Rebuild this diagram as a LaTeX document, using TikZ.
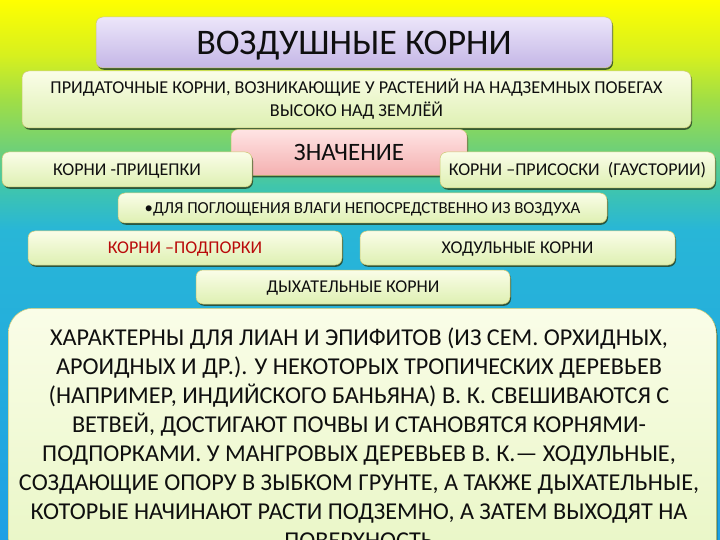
\documentclass[tikz,border=0pt]{standalone}
\usepackage{fontspec}
\setmainfont{Carlito}
\usetikzlibrary{shadows}
\definecolor{bgA}{RGB}{30,160,228}
\definecolor{bgB}{RGB}{40,182,215}
\definecolor{bgC}{RGB}{65,198,170}
\definecolor{bgD}{RGB}{110,208,120}
\definecolor{bgE}{RGB}{160,222,70}
\definecolor{bgF}{RGB}{255,255,0}
\definecolor{bgG}{RGB}{215,240,30}
\definecolor{creamT}{RGB}{250,253,232}
\definecolor{creamB}{RGB}{222,240,178}
\definecolor{lavT}{RGB}{236,230,250}
\definecolor{lavB}{RGB}{196,182,230}
\definecolor{pinkT}{RGB}{255,228,228}
\definecolor{pinkB}{RGB}{244,176,176}
\definecolor{bigT}{RGB}{250,253,232}
\definecolor{bigB}{RGB}{232,246,196}
\definecolor{txt}{RGB}{15,15,15}
\definecolor{redtxt}{RGB}{185,10,10}
\definecolor{shadowc}{RGB}{40,70,40}
\pgfdeclareverticalshading{bgshade}{100bp}{color(0bp)=(bgA); color(25bp)=(bgA); color(53.7bp)=(bgB); color(57.87bp)=(bgC); color(61.1bp)=(bgD); color(65.74bp)=(bgE); color(69.9bp)=(bgG); color(75bp)=(bgF); color(100bp)=(bgF)}
\tikzset{
  box/.style={rounded corners=7pt, draw=white!55!olive, line width=0.5pt,
    drop shadow={shadow xshift=1pt, shadow yshift=-1.8pt, fill=shadowc, opacity=0.85},
    top color=creamT, bottom color=creamB, inner sep=0pt, text=txt,
    font=\fontsize{18}{23}\selectfont, text height=11.6pt, text depth=0pt},
  titlebox/.style={box, top color=lavT, bottom color=lavB, font=\fontsize{36}{40}\selectfont, text height=23.2pt},
  pinkbox/.style={box, top color=pinkT, bottom color=pinkB, font=\fontsize{25}{28}\selectfont, text height=16.1pt},
  bodyline/.style={anchor=base, inner sep=0pt, text=txt, font=\fontsize{24.2}{29}\selectfont}
}
\begin{document}
\begin{tikzpicture}[x=1pt,y=-1pt]
\useasboundingbox (0,0) rectangle (720,540);
\clip (0,0) rectangle (720,540);
\shade[shading=bgshade] (0,0) rectangle (720,540);
\node[titlebox, minimum width=516pt, minimum height=51pt] (title) at (354,42.5) {ВОЗДУШНЫЕ КОРНИ};
\node[box, align=center, font=\fontsize{18.15}{23}\selectfont, text height=34.7pt, minimum width=669pt, minimum height=57pt] (def) at (356.5,99.5) {ПРИДАТОЧНЫЕ КОРНИ, ВОЗНИКАЮЩИЕ У РАСТЕНИЙ НА НАДЗЕМНЫХ ПОБЕГАХ\\ВЫСОКО НАД ЗЕМЛЁЙ};
\node[pinkbox, minimum width=236pt, minimum height=46pt] (znach) at (349,152.5) {ЗНАЧЕНИЕ};
\node[box, minimum width=250pt, minimum height=35pt] (pric) at (127,169.5) {КОРНИ -ПРИЦЕПКИ};
\node[box, minimum width=275pt, minimum height=36pt] (pris) at (577.5,170) {КОРНИ –ПРИСОСКИ\ \ (ГАУСТОРИИ)};
\node[box, font=\fontsize{16.8}{20}\selectfont, text height=10.8pt, minimum width=489pt, minimum height=30pt] (vlag) at (362.5,208) {•ДЛЯ ПОГЛОЩЕНИЯ ВЛАГИ НЕПОСРЕДСТВЕННО ИЗ ВОЗДУХА};
\node[box, minimum width=314pt, minimum height=34pt, text=redtxt] (podp) at (185,248) {КОРНИ –ПОДПОРКИ};
\node[box, minimum width=315pt, minimum height=34pt] (hod) at (517.5,248) {ХОДУЛЬНЫЕ КОРНИ};
\node[box, minimum width=314pt, minimum height=34pt] (dyh) at (353,287) {ДЫХАТЕЛЬНЫЕ КОРНИ};
\node[box, rounded corners=25pt, top color=bigT, bottom color=bigB, minimum width=708pt, minimum height=262pt, anchor=north west] (big) at (8,308) {};
\node[bodyline] (l1) at (359,345.5) {ХАРАКТЕРНЫ ДЛЯ ЛИАН И ЭПИФИТОВ (ИЗ СЕМ. ОРХИДНЫХ,};
\node[bodyline] (l2) at (359,374.5) {АРОИДНЫХ И ДР.). У НЕКОТОРЫХ ТРОПИЧЕСКИХ ДЕРЕВЬЕВ};
\node[bodyline] (l3) at (359,403.5) {(НАПРИМЕР, ИНДИЙСКОГО БАНЬЯНА) В. К. СВЕШИВАЮТСЯ С};
\node[bodyline] (l4) at (359,432.5) {ВЕТВЕЙ, ДОСТИГАЮТ ПОЧВЫ И СТАНОВЯТСЯ КОРНЯМИ-};
\node[bodyline] (l5) at (359,461.5) {ПОДПОРКАМИ. У МАНГРОВЫХ ДЕРЕВЬЕВ В. К.— ХОДУЛЬНЫЕ,};
\node[bodyline] (l6) at (359,490.5) {СОЗДАЮЩИЕ ОПОРУ В ЗЫБКОМ ГРУНТЕ, А ТАКЖЕ ДЫХАТЕЛЬНЫЕ,};
\node[bodyline] (l7) at (359,519.5) {КОТОРЫЕ НАЧИНАЮТ РАСТИ ПОДЗЕМНО, А ЗАТЕМ ВЫХОДЯТ НА};
\node[bodyline] (l8) at (359,548.5) {ПОВЕРХНОСТЬ};
\end{tikzpicture}
\end{document}
